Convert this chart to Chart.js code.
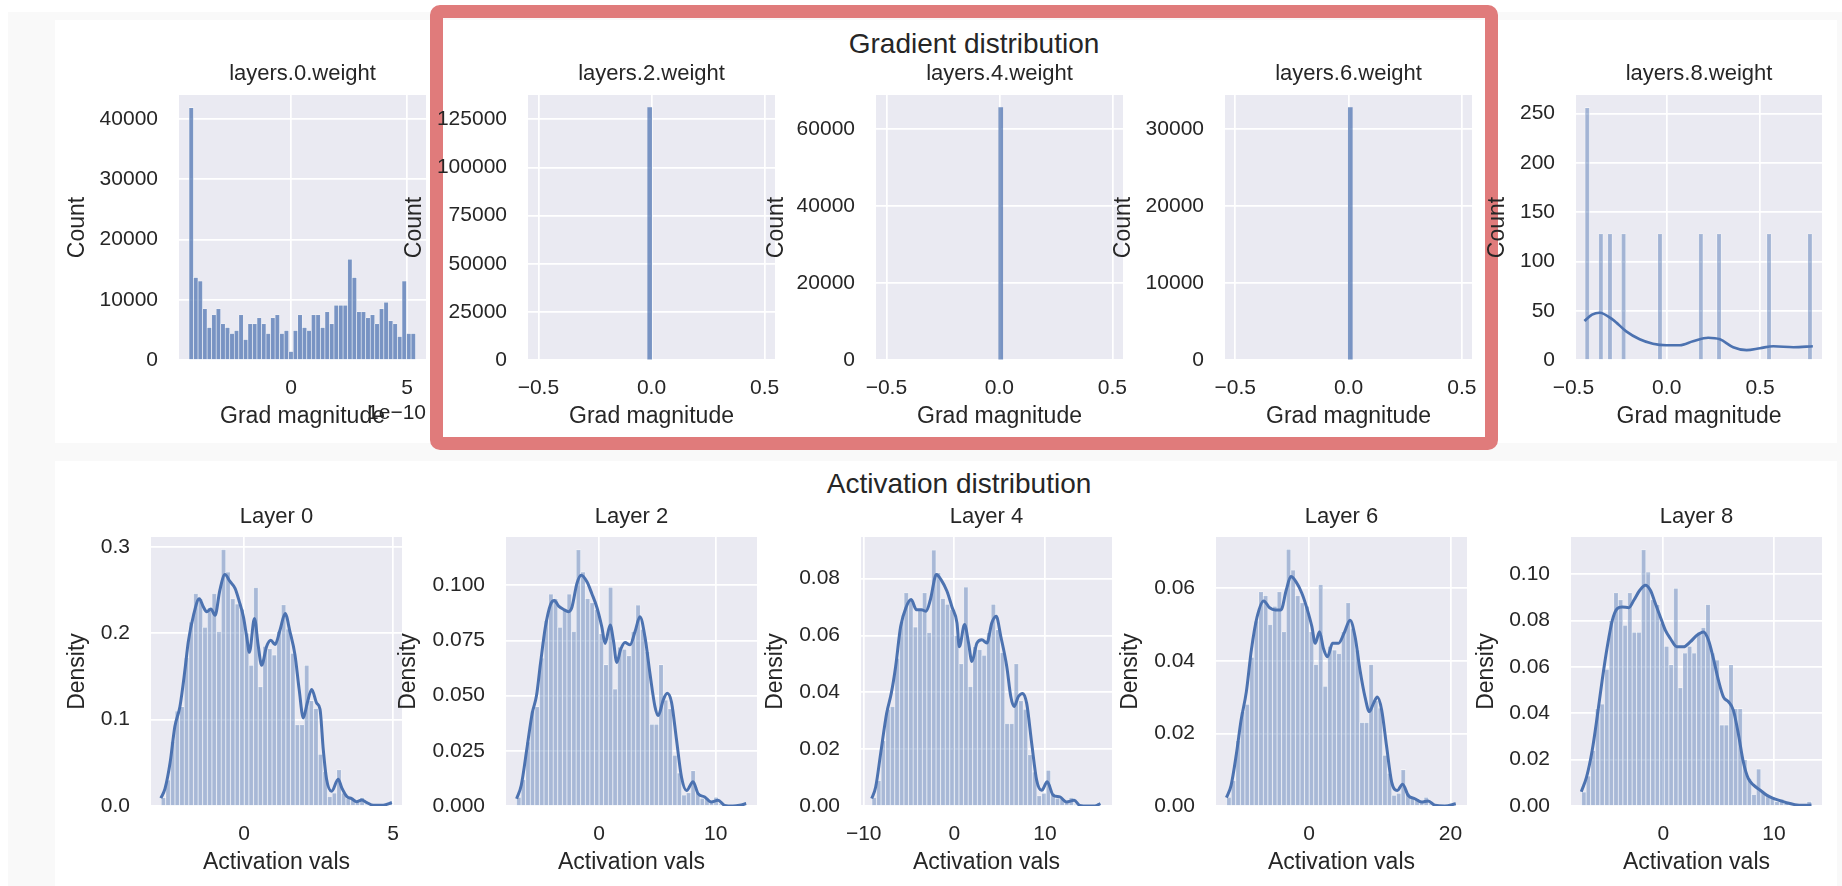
<!DOCTYPE html>
<html>
<head>
<meta charset="utf-8">
<script src="https://cdn.jsdelivr.net/npm/chart.js@4.4.1/dist/chart.umd.min.js"></script>
<style>
  body { margin:0; background:#fff; width:1842px; height:886px; position:relative; overflow:hidden;
         font-family:'Liberation Sans', Arial, sans-serif; }
  .frame { position:absolute; left:8px; top:12px; width:1834px; height:874px; background:#f9f9f9; }
  .panel { position:absolute; background:#fff; }
  .redbox { position:absolute; left:430px; top:5px; width:1042px; height:419px;
            border:13px solid #e07b7b; border-radius:10px; }
  .sup { position:absolute; font-size:28px; color:#262626; transform:translate(-50%,-50%); white-space:nowrap; }
  canvas { position:absolute; }
</style>
</head>
<body>
<div class="frame"></div>
<div class="panel" style="left:55px;top:20px;width:1782px;height:423px"></div>
<div class="panel" style="left:55px;top:461px;width:1782px;height:425px"></div>
<div class="redbox"></div>
<div class="sup" style="left:974px;top:44px">Gradient distribution</div>
<div class="sup" style="left:959px;top:484px">Activation distribution</div>
<script>
// ---------- Gradient distribution (top row) ----------
const gradTitles = ['layers.0.weight', 'layers.2.weight', 'layers.4.weight', 'layers.6.weight', 'layers.8.weight'];

// layers.0 gradient values are in units of 1e-10
const grad0Range = [-4.40, 5.37];
const grad0Counts = [41870, 13700, 13100, 8500, 5400, 7500, 8500, 6000, 5400, 4400,
  4900, 7500, 3400, 6000, 6000, 7000, 6000, 4400, 7000, 7500,
  4400, 4900, 1400, 4900, 7500, 5400, 4900, 7500, 7500, 5400,
  8000, 6000, 9100, 9100, 9100, 16700, 13700, 8000, 8000, 7000,
  7500, 6000, 8500, 9600, 6500, 6000, 3900, 13100, 4400, 4400];
const grad2Range = [-0.010, -0.006];
const grad2Counts = [131072];
const grad4Range = [0.004, 0.008];
const grad4Counts = [65536];
const grad6Range = [0.006, 0.010];
const grad6Counts = [32768];
const grad8Range = [-0.438, 0.7795];
const grad8Counts = [256, 0, 0, 128, 0, 128, 0, 0, 128, 0,
  0, 0, 0, 0, 0, 0, 128, 0, 0, 0,
  0, 0, 0, 0, 0, 128, 0, 0, 0, 128,
  0, 0, 0, 0, 0, 0, 0, 0, 0, 0,
  128, 0, 0, 0, 0, 0, 0, 0, 0, 128];
const grad8KdeX = [-0.441, -0.40, -0.36, -0.289, -0.217, -0.145, -0.074, -0.002, 0.070, 0.141, 0.222, 0.285, 0.356, 0.428, 0.50, 0.571, 0.679, 0.783];
const grad8KdeY = [39.5, 46, 48, 41, 29, 21, 16.5, 15, 15, 19, 22.6, 21, 13, 10, 12, 14, 13, 14];

const gradXLims = [[-4.83, 5.82], [-0.546, 0.546], [-0.546, 0.547], [-0.545, 0.545], [-0.486, 0.832]];
const gradYMax = [43964, 137626, 68813, 34406, 268.8];
const gradXTicks = [[0, 5], [-0.5, 0, 0.5], [-0.5, 0, 0.5], [-0.5, 0, 0.5], [-0.5, 0, 0.5]];
const gradXTickLabels = [['0', '5'], ['−0.5', '0.0', '0.5'], ['−0.5', '0.0', '0.5'], ['−0.5', '0.0', '0.5'], ['−0.5', '0.0', '0.5']];
const gradYTicks = [[0, 10000, 20000, 30000, 40000], [0, 25000, 50000, 75000, 100000, 125000],
  [0, 20000, 40000, 60000], [0, 10000, 20000, 30000], [0, 50, 100, 150, 200, 250]];

// ---------- Activation distribution (bottom row) ----------
const actTitles = ['Layer 0', 'Layer 2', 'Layer 4', 'Layer 6', 'Layer 8'];

const act0Range = [-2.78, 4.97];
const act0Density = [0.010, 0.030, 0.075, 0.110, 0.115, 0.172, 0.213, 0.246, 0.240, 0.207,
  0.230, 0.246, 0.202, 0.297, 0.271, 0.240, 0.234, 0.228, 0.200, 0.163,
  0.253, 0.138, 0.185, 0.182, 0.175, 0.202, 0.233, 0.205, 0.177, 0.094,
  0.094, 0.163, 0.122, 0.113, 0.060, 0.040, 0.011, 0.015, 0.042, 0.015,
  0.009, 0.008, 0.004, 0.010, 0.002, 0, 0, 0, 0.001, 0.003];
const act0KdeX = [-2.79, -2.65, -2.48, -2.32, -2.15, -1.98, -1.87, -1.70, -1.50, -1.37,
  -1.25, -1.11, -0.97, -0.81, -0.64, -0.47, -0.30, -0.16, -0.02, 0.09,
  0.18, 0.35, 0.48, 0.59, 0.76, 0.90, 1.04, 1.21, 1.38, 1.54,
  1.71, 1.85, 1.99, 2.12, 2.27, 2.44, 2.55, 2.66, 2.77, 2.94,
  3.16, 3.28, 3.45, 3.61, 3.78, 3.95, 4.12, 4.34, 4.67, 4.96];
const act0KdeY = [0.009, 0.020, 0.050, 0.092, 0.115, 0.158, 0.190, 0.220, 0.240, 0.231,
  0.225, 0.228, 0.221, 0.250, 0.268, 0.260, 0.252, 0.237, 0.219, 0.196,
  0.178, 0.217, 0.185, 0.163, 0.185, 0.192, 0.187, 0.204, 0.223, 0.202,
  0.175, 0.135, 0.102, 0.119, 0.135, 0.119, 0.112, 0.065, 0.031, 0.017,
  0.031, 0.021, 0.011, 0.0085, 0.005, 0.007, 0.004, 0.001, 0.001, 0.004];

const act2Range = [-7.1, 12.6];
const act2Density = [0.004, 0.012, 0.029, 0.043, 0.045, 0.067, 0.084, 0.096, 0.094, 0.081,
  0.089, 0.096, 0.079, 0.116, 0.106, 0.094, 0.092, 0.089, 0.078, 0.064,
  0.099, 0.053, 0.072, 0.071, 0.068, 0.079, 0.091, 0.080, 0.070, 0.037,
  0.037, 0.064, 0.048, 0.044, 0.023, 0.015, 0.005, 0.006, 0.016, 0.006,
  0.0035, 0.0035, 0.0015, 0.004, 0.0008, 0, 0, 0, 0.0003, 0.0012];
const act2KdeX = [-7.09, -6.69, -6.18, -5.75, -5.38, -5.04, -4.62, -4.19, -3.85, -3.48,
  -3.05, -2.62, -2.34, -1.91, -1.54, -1.05, -0.62, -0.20, 0.23, 0.51,
  0.94, 1.22, 1.51, 1.85, 2.22, 2.65, 3.08, 3.50, 3.93, 4.36,
  4.79, 5.07, 5.50, 5.84, 6.21, 6.64, 7.07, 7.50, 8.06, 8.49,
  9.06, 9.63, 10.20, 10.77, 11.48, 12.05, 12.62];
const act2KdeY = [0.0033, 0.0094, 0.027, 0.042, 0.050, 0.0645, 0.081, 0.091, 0.093, 0.0905,
  0.089, 0.088, 0.090, 0.1008, 0.1045, 0.1015, 0.096, 0.090, 0.081, 0.0736,
  0.082, 0.075, 0.065, 0.071, 0.074, 0.073, 0.079, 0.0857, 0.0766, 0.060,
  0.045, 0.041, 0.048, 0.051, 0.047, 0.030, 0.013, 0.007, 0.011, 0.0056,
  0.0041, 0.0018, 0.0026, 0.0003, 0.0, 0.0003, 0.0011];

const act4Range = [-9.1, 16.2];
const act4Density = [0.003, 0.009, 0.023, 0.034, 0.035, 0.052, 0.065, 0.075, 0.073, 0.063,
  0.069, 0.075, 0.061, 0.090, 0.082, 0.073, 0.071, 0.069, 0.060, 0.050,
  0.077, 0.042, 0.056, 0.055, 0.053, 0.061, 0.071, 0.062, 0.054, 0.029,
  0.029, 0.050, 0.037, 0.034, 0.018, 0.012, 0.0036, 0.0045, 0.0126, 0.0045,
  0.0027, 0.0027, 0.0012, 0.003, 0.0006, 0, 0, 0, 0.0003, 0.001];
const act4KdeX = [-9.12, -8.68, -8.13, -7.47, -6.96, -6.48, -5.93, -5.31, -4.76, -4.18,
  -3.63, -3.11, -2.64, -1.98, -1.47, -0.81, -0.26, 0.29, 0.55, 1.13,
  1.57, 1.94, 2.49, 3.04, 3.59, 4.14, 4.62, 5.13, 5.79, 6.23,
  6.59, 7.07, 7.55, 7.99, 8.54, 9.09, 9.64, 10.25, 10.91, 11.65,
  12.38, 13.22, 13.85, 14.76, 15.49, 16.12];
const act4KdeY = [0.0026, 0.0067, 0.0185, 0.0326, 0.0396, 0.049, 0.063, 0.070, 0.0726, 0.069,
  0.069, 0.0685, 0.0726, 0.0814, 0.0796, 0.0755, 0.070, 0.0644, 0.056, 0.0638,
  0.0573, 0.0508, 0.0573, 0.0585, 0.0573, 0.0644, 0.0667, 0.0596, 0.049, 0.0385,
  0.035, 0.0385, 0.0396, 0.036, 0.022, 0.009, 0.0055, 0.0085, 0.0038, 0.0032,
  0.0014, 0.002, 0.0002, 0, 0, 0.0008];

const act6Range = [-11.7, 20.8];
const act6Density = [0.0024, 0.007, 0.018, 0.026, 0.028, 0.041, 0.051, 0.059, 0.058, 0.050,
  0.055, 0.059, 0.048, 0.0707, 0.065, 0.058, 0.056, 0.055, 0.048, 0.039,
  0.061, 0.033, 0.044, 0.043, 0.042, 0.048, 0.056, 0.049, 0.043, 0.023,
  0.023, 0.039, 0.029, 0.027, 0.014, 0.009, 0.003, 0.0035, 0.010, 0.0035,
  0.002, 0.002, 0.001, 0.0024, 0.0005, 0, 0, 0, 0.0002, 0.0007];
const act6KdeX = [-11.72, -11.06, -10.31, -9.65, -8.90, -8.19, -7.39, -6.45, -5.60, -4.80,
  -4.00, -3.25, -2.59, -1.88, -1.04, -0.33, 0.38, 0.85, 1.46, 2.02,
  2.59, 3.30, 4.14, 4.94, 5.79, 6.50, 7.20, 7.91, 8.52, 9.09,
  9.65, 10.27, 10.97, 11.68, 12.48, 13.23, 14.03, 14.97, 15.91, 16.85,
  17.80, 19.21, 20.76];
const act6KdeY = [0.0023, 0.0057, 0.0144, 0.0236, 0.0315, 0.043, 0.052, 0.0565, 0.0546, 0.054,
  0.054, 0.0595, 0.0632, 0.0618, 0.0586, 0.0545, 0.0494, 0.0448, 0.048, 0.0434,
  0.0411, 0.0448, 0.0448, 0.0476, 0.0512, 0.0466, 0.0374, 0.030, 0.026, 0.0282,
  0.030, 0.0264, 0.0163, 0.0066, 0.0043, 0.006, 0.0029, 0.002, 0.0011, 0.0014,
  0.0002, 0, 0.0006];

const act8Range = [-7.4, 13.4];
const act8Density = [0.006, 0.013, 0.024, 0.042, 0.044, 0.059, 0.080, 0.092, 0.089, 0.078,
  0.092, 0.075, 0.075, 0.1106, 0.101, 0.089, 0.087, 0.079, 0.069, 0.061,
  0.094, 0.051, 0.066, 0.069, 0.066, 0.075, 0.077, 0.087, 0.066, 0.063,
  0.035, 0.035, 0.061, 0.042, 0.042, 0.020, 0.012, 0.005, 0.016, 0.006,
  0.004, 0.004, 0.002, 0.003, 0.001, 0, 0, 0, 0.0004, 0.002];
const act8KdeX = [-7.42, -6.94, -6.43, -5.98, -5.53, -5.07, -4.62, -4.17, -3.72, -3.12,
  -2.67, -2.13, -1.62, -1.17, -0.72, -0.27, 0.18, 0.63, 1.23, 1.83,
  2.43, 3.04, 3.63, 4.08, 4.53, 4.98, 5.43, 5.89, 6.33, 6.78,
  7.23, 7.68, 8.14, 8.74, 9.34, 9.94, 10.54, 11.14, 11.89, 12.64, 13.40];
const act8KdeY = [0.0062, 0.0126, 0.0241, 0.0385, 0.0543, 0.0687, 0.080, 0.0852, 0.0859, 0.0856,
  0.0888, 0.0931, 0.0953, 0.0931, 0.0874, 0.0816, 0.0759, 0.0723, 0.0687, 0.0687,
  0.0708, 0.0737, 0.0751, 0.0716, 0.0636, 0.0543, 0.0471, 0.045, 0.0414, 0.0313,
  0.0191, 0.0119, 0.0091, 0.0069, 0.0047, 0.0033, 0.0023, 0.0014, 0.0006, 0.0003, 0.0004];

const actXLims = [[-3.12, 5.30], [-8.0, 13.55], [-10.3, 17.4], [-13.2, 22.35], [-8.35, 14.35]];
const actYMax = [0.3115, 0.1218, 0.0946, 0.0741, 0.1161];
const actXTicks = [[0, 5], [0, 10], [-10, 0, 10], [0, 20], [0, 10]];
const actXTickLabels = [['0', '5'], ['0', '10'], ['−10', '0', '10'], ['0', '20'], ['0', '10']];
const actYTicks = [[0, 0.1, 0.2, 0.3], [0, 0.025, 0.05, 0.075, 0.1], [0, 0.02, 0.04, 0.06, 0.08],
  [0, 0.02, 0.04, 0.06], [0, 0.02, 0.04, 0.06, 0.08, 0.1]];
const actYTickLabels = [['0.0', '0.1', '0.2', '0.3'], ['0.000', '0.025', '0.050', '0.075', '0.100'],
  ['0.00', '0.02', '0.04', '0.06', '0.08'], ['0.00', '0.02', '0.04', '0.06'],
  ['0.00', '0.02', '0.04', '0.06', '0.08', '0.10']];

// ---------- layout (plot area left, top, width, height) ----------
const gradBoxes = [[179, 95, 247, 265], [528, 95, 247, 265], [876, 95, 247, 265], [1225, 95, 247, 265], [1576, 95, 246, 265]];
const actBoxes = [[151, 537, 251, 269], [506, 537, 251, 269], [861, 537, 251, 269], [1216, 537, 251, 269], [1571, 537, 251, 269]];
const gradYLabelGap = [101, 113, 99, 101, 78];
const actYLabelGap = [73, 97, 85, 85, 84];

Chart.defaults.font.family = "'Liberation Sans', Arial, sans-serif";
const ink = '#262626';
const blue = '#4c72b0';
const L = 130, T = 50, R = 30, B = 72;

const plotBg = {
  id: 'plotBg',
  beforeDraw(chart) {
    const a = chart.chartArea, ctx = chart.ctx;
    ctx.save();
    ctx.fillStyle = '#eaeaf2';
    ctx.fillRect(a.left, a.top, a.right - a.left, a.bottom - a.top);
    ctx.restore();
  }
};

// "1e−10" offset label of the first gradient panel
const offsetText = {
  id: 'offsetText',
  afterDraw(chart) {
    const a = chart.chartArea, ctx = chart.ctx;
    ctx.save();
    ctx.font = "21px 'Liberation Sans', Arial, sans-serif";
    ctx.fillStyle = ink;
    ctx.textAlign = 'right';
    ctx.textBaseline = 'middle';
    ctx.fillText('1e−10', a.right, a.bottom + 53);
    ctx.restore();
  }
};

function makePanel(p) {
  const box = p.box;
  const cv = document.createElement('canvas');
  cv.width = box[2] + L + R;
  cv.height = box[3] + T + B;
  cv.style.left = (box[0] - L) + 'px';
  cv.style.top = (box[1] - T) + 'px';
  document.body.appendChild(cv);

  const n = p.counts.length;
  const w = (p.range[1] - p.range[0]) / n;
  const bars = p.counts.map((c, i) => ({x: p.range[0] + (i + 0.5) * w, y: c}));

  const datasets = [];
  if (p.kdeX) {
    datasets.push({
      type: 'line',
      data: p.kdeX.map((x, i) => ({x: x, y: p.kdeY[i]})),
      borderColor: blue, borderWidth: p.lineWidth, pointRadius: 0,
      cubicInterpolationMode: 'monotone', fill: false
    });
  }
  const barSet = {
    type: 'bar', data: bars,
    backgroundColor: p.barColor,
    borderColor: 'rgba(255,255,255,0.75)', borderWidth: p.edge,
    barPercentage: 1, categoryPercentage: 1
  };
  if (p.thickness) barSet.barThickness = p.thickness;
  datasets.push(barSet);

  new Chart(cv, {
    type: 'bar',
    data: {datasets: datasets},
    options: {
      responsive: false, animation: false, devicePixelRatio: 1,
      layout: {padding: {left: 0, right: R, top: 0, bottom: 0}},
      plugins: {
        legend: {display: false}, tooltip: {enabled: false},
        title: {
          display: true, text: p.title, color: ink, fullSize: false,
          font: {size: 22, weight: 'normal'},
          padding: {top: T - p.titleGap - 13.2, bottom: p.titleGap - 13.2}
        }
      },
      scales: {
        x: {
          type: 'linear', min: p.xlim[0], max: p.xlim[1], offset: false, bounds: 'data',
          afterBuildTicks: s => { s.ticks = p.xticks.map(v => ({value: v})); },
          afterFit: s => { s.height = B; },
          ticks: {padding: 16, color: ink, font: {size: 21}, autoSkip: false, maxRotation: 0,
                  callback: (v, i) => p.xlabels[i]},
          grid: {color: '#ffffff', lineWidth: 1.7, drawTicks: false, offset: false},
          border: {display: false},
          title: {display: true, text: p.xtitle, color: ink, font: {size: 23},
                  padding: {top: 0, bottom: 1.2}}
        },
        y: {
          type: 'linear', min: 0, max: p.ymax, bounds: 'data',
          afterBuildTicks: s => { s.ticks = p.yticks.map(v => ({value: v})); },
          afterFit: s => { s.width = L; },
          ticks: {padding: 21, color: ink, font: {size: 21},
                  callback: (v, i) => p.ylabels[i]},
          grid: {color: '#ffffff', lineWidth: 1.7, drawTicks: false},
          border: {display: false},
          title: {display: true, text: p.ytitle, color: ink, font: {size: 23},
                  padding: {top: L - 13.8 - p.yGap, bottom: 0}}
        }
      }
    },
    plugins: p.offset ? [plotBg, offsetText] : [plotBg]
  });
}

const gradRanges = [grad0Range, grad2Range, grad4Range, grad6Range, grad8Range];
const gradCounts = [grad0Counts, grad2Counts, grad4Counts, grad6Counts, grad8Counts];
for (let k = 0; k < 5; k++) {
  makePanel({
    box: gradBoxes[k], title: gradTitles[k], titleGap: 21,
    range: gradRanges[k], counts: gradCounts[k],
    kdeX: k === 4 ? grad8KdeX : null, kdeY: k === 4 ? grad8KdeY : null, lineWidth: 2.6,
    barColor: k === 4 ? 'rgba(76,114,176,0.45)' : 'rgba(76,114,176,0.72)',
    edge: (k === 0 || k === 4) ? 0.6 : 0,
    thickness: (k >= 1 && k <= 3) ? 4 : null,
    xlim: gradXLims[k], ymax: gradYMax[k],
    xticks: gradXTicks[k], xlabels: gradXTickLabels[k],
    yticks: gradYTicks[k], ylabels: gradYTicks[k].map(String),
    xtitle: 'Grad magnitude', ytitle: 'Count', yGap: gradYLabelGap[k],
    offset: k === 0
  });
}

const actRanges = [act0Range, act2Range, act4Range, act6Range, act8Range];
const actDensities = [act0Density, act2Density, act4Density, act6Density, act8Density];
const actKdeX = [act0KdeX, act2KdeX, act4KdeX, act6KdeX, act8KdeX];
const actKdeY = [act0KdeY, act2KdeY, act4KdeY, act6KdeY, act8KdeY];
for (let k = 0; k < 5; k++) {
  makePanel({
    box: actBoxes[k], title: actTitles[k], titleGap: 20,
    range: actRanges[k], counts: actDensities[k],
    kdeX: actKdeX[k], kdeY: actKdeY[k], lineWidth: 3,
    barColor: 'rgba(76,114,176,0.42)', edge: 0.6, thickness: null,
    xlim: actXLims[k], ymax: actYMax[k],
    xticks: actXTicks[k], xlabels: actXTickLabels[k],
    yticks: actYTicks[k], ylabels: actYTickLabels[k],
    xtitle: 'Activation vals', ytitle: 'Density', yGap: actYLabelGap[k],
    offset: false
  });
}
</script>
</body>
</html>
